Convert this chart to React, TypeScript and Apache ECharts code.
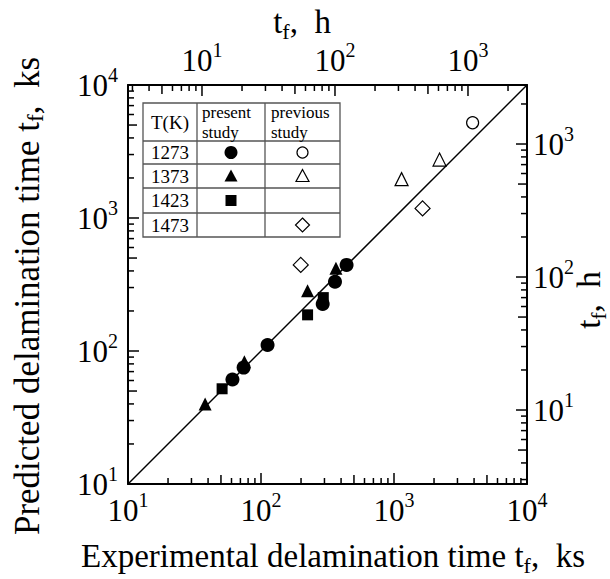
import React, { useEffect, useRef } from 'react';
import * as echarts from 'echarts';

const FONT = '"Liberation Serif", "Times New Roman", serif';

const KS_MIN = 10;
const KS_MAX = 10000;
const KS_PER_HOUR = 3.6;

// [experimental ks, predicted ks]
const PRESENT_1273 = [[61, 61], [74, 75], [112, 111], [291, 226], [360, 332], [440, 444]];
const PRESENT_1373 = [[38, 40], [75, 83], [224, 284], [366, 419]];
const PRESENT_1423 = [[51, 52], [224, 187], [294, 252]];
const PREVIOUS_1273 = [[3900, 5200]];
const PREVIOUS_1373 = [[1140, 1960], [2200, 2750]];
const PREVIOUS_1473 = [[199, 444], [1640, 1180]];
const DIAGONAL = [[10, 10], [10000, 10000]];

const TEMPS = ['1273', '1373', '1423', '1473'];
const MANTISSAS = [1, 2, 3, 4, 5, 6, 7, 8, 9];
const KS_DECADES = [10, 100, 1000, 10000];
const H_DECADES = [1, 10, 100, 1000];

const H_MIN = KS_MIN / KS_PER_HOUR;
const H_MAX = KS_MAX / KS_PER_HOUR;

const ksTicks = KS_DECADES.flatMap((d) => MANTISSAS.map((m) => m * d)).filter(
  (v) => v >= KS_MIN * 0.999 && v <= KS_MAX * 1.001
);
const hTicks = H_DECADES.flatMap((d) => MANTISSAS.map((m) => m * d)).filter(
  (v) => v >= H_MIN && v <= H_MAX
);

function tickLen(v: number) {
  const e = Math.floor(Math.log10(v) + 1e-9);
  const m = v / Math.pow(10, e);
  if (Math.abs(m - 1) < 1e-6) return 11;
  if (Math.abs(m - 5) < 1e-6) return 9;
  return 6;
}

const supRich = {
  b: { fontFamily: FONT, fontSize: 31, color: '#000', lineHeight: 40 },
  s: { fontFamily: FONT, fontSize: 20, color: '#000', lineHeight: 13, verticalAlign: 'top' },
};

function powLabel(v: number) {
  const l = Math.log10(v);
  const r = Math.round(l);
  if (Math.abs(l - r) > 0.01) return '';
  return `{b|10}{s|${r}}`;
}

const makeSubRich = (size: number) => ({
  n: { fontFamily: FONT, fontSize: size, color: '#000', lineHeight: 40 },
  s: { fontFamily: FONT, fontSize: Math.round(size * 0.66), color: '#000', lineHeight: 22, verticalAlign: 'bottom' },
});

const TICK_STYLE = { stroke: '#000', lineWidth: 1.5 };

export default function App() {
  const ref = useRef<HTMLDivElement>(null);

  useEffect(() => {
    if (!ref.current) return;
    const chart = echarts.init(ref.current, null, { renderer: 'svg' });

    const axisCommon = {
      type: 'log',
      logBase: 10,
      axisLine: { show: true, onZero: false, lineStyle: { color: '#000', width: 2 } },
      axisTick: { show: false },
      minorTick: { show: false },
      splitLine: { show: false },
    };

    // table geometry
    const tX = [143, 197, 265, 340];
    const tY = [103, 141, 164, 188, 213, 237];
    const c1 = (tX[0] + tX[1]) / 2;
    const c2 = (tX[1] + tX[2]) / 2;
    const c3 = (tX[2] + tX[3]) / 2;
    const rowC = (i: number) => (tY[i + 1] + tY[i + 2]) / 2;
    const txt = (x: number, y: number, text: string, align = 'center', size = 19) => ({
      type: 'text',
      x,
      y,
      style: {
        text,
        fontFamily: FONT,
        fontSize: size,
        lineHeight: size,
        fill: '#000',
        align,
        verticalAlign: 'middle',
      },
    });
    const tri = (cx: number, cy: number, filled: boolean) => ({
      type: 'polygon',
      shape: { points: [[cx, cy - 6.5], [cx + 6.5, cy + 5.5], [cx - 6.5, cy + 5.5]] },
      style: filled ? { fill: '#000' } : { fill: '#fff', stroke: '#000', lineWidth: 1.2 },
    });

    const tableElements: any[] = [
      {
        type: 'rect',
        shape: { x: tX[0], y: tY[0], width: tX[3] - tX[0], height: tY[5] - tY[0] },
        style: { fill: '#fff', stroke: '#555', lineWidth: 1.3 },
      },
      ...[tX[1], tX[2]].map((x) => ({
        type: 'line',
        shape: { x1: x, y1: tY[0], x2: x, y2: tY[5] },
        style: { stroke: '#555', lineWidth: 1.3 },
      })),
      ...[tY[1], tY[2], tY[3], tY[4]].map((y) => ({
        type: 'line',
        shape: { x1: tX[0], y1: y, x2: tX[3], y2: y },
        style: { stroke: '#555', lineWidth: 1.3 },
      })),
      txt(c1, 122, 'T(K)'),
      txt(tX[1] + 5, 112, 'present', 'left', 17),
      txt(tX[1] + 5, 132, 'study', 'left', 17),
      txt(tX[2] + 6, 112, 'previous', 'left', 17),
      txt(tX[2] + 6, 132, 'study', 'left', 17),
      ...TEMPS.map((t, i) => txt(c1, rowC(i), t)),
      { type: 'circle', shape: { cx: c2, cy: rowC(0), r: 6.5 }, style: { fill: '#000' } },
      { type: 'circle', shape: { cx: c3, cy: rowC(0), r: 5.5 }, style: { fill: '#fff', stroke: '#000', lineWidth: 1.2 } },
      tri(c2, rowC(1), true),
      tri(c3, rowC(1), false),
      { type: 'rect', shape: { x: c2 - 5.5, y: rowC(2) - 5.5, width: 11, height: 11 }, style: { fill: '#000' } },
      {
        type: 'polygon',
        shape: { points: [[c3, rowC(3) - 7], [c3 + 7, rowC(3)], [c3, rowC(3) + 7], [c3 - 7, rowC(3)]] },
        style: { fill: '#fff', stroke: '#000', lineWidth: 1.2 },
      },
    ];

    const titles: any[] = [
      {
        type: 'text',
        x: 333,
        y: 556,
        style: {
          text: '{n|Experimental delamination time t}{s|f}{n|,  ks}',
          rich: makeSubRich(33),
          align: 'center',
          verticalAlign: 'middle',
        },
      },
      {
        type: 'text',
        x: 27,
        y: 296,
        rotation: Math.PI / 2,
        style: {
          text: '{n|Predicted delamination time t}{s|f}{n|,  ks}',
          rich: makeSubRich(35),
          align: 'center',
          verticalAlign: 'middle',
        },
      },
      {
        type: 'text',
        x: 302,
        y: 22,
        style: { text: '{n|t}{s|f}{n|,  h}', rich: makeSubRich(33), align: 'center', verticalAlign: 'middle' },
      },
      {
        type: 'text',
        x: 589,
        y: 300,
        rotation: Math.PI / 2,
        style: { text: '{n|t}{s|f}{n|,  h}', rich: makeSubRich(33), align: 'center', verticalAlign: 'middle' },
      },
    ];

    const filled = { color: '#000', opacity: 1 };
    const open = { color: '#fff', borderColor: '#000', borderWidth: 1.2, opacity: 1 };

    chart.setOption({
      animation: false,
      backgroundColor: '#fff',
      grid: { left: 128, right: 83, top: 85, bottom: 95, containLabel: false },
      xAxis: [
        {
          ...axisCommon,
          position: 'bottom',
          min: KS_MIN,
          max: KS_MAX,
          axisLabel: { formatter: powLabel, rich: supRich, margin: 6 },
        },
        {
          ...axisCommon,
          position: 'top',
          min: H_MIN,
          max: H_MAX,
          axisLabel: { formatter: powLabel, rich: supRich, margin: 5, showMinLabel: false, showMaxLabel: false },
        },
      ],
      yAxis: [
        {
          ...axisCommon,
          position: 'left',
          min: KS_MIN,
          max: KS_MAX,
          axisLabel: { formatter: powLabel, rich: supRich, margin: 10 },
        },
        {
          ...axisCommon,
          position: 'right',
          min: H_MIN,
          max: H_MAX,
          axisLabel: { formatter: powLabel, rich: supRich, margin: 6, showMinLabel: false, showMaxLabel: false },
        },
      ],
      series: [
        {
          type: 'custom',
          xAxisIndex: 0,
          yAxisIndex: 0,
          silent: true,
          clip: false,
          data: ksTicks.map((v) => [v, v]),
          encode: { x: 0, y: 1 },
          renderItem: (params: any, api: any) => {
            const v = api.value(0);
            const cs = params.coordSys;
            const x = api.coord([v, KS_MIN])[0];
            const y = api.coord([KS_MIN, v])[1];
            const len = tickLen(v);
            const bottom = cs.y + cs.height;
            return {
              type: 'group',
              children: [
                { type: 'line', shape: { x1: x, y1: bottom, x2: x, y2: bottom - len }, style: TICK_STYLE },
                { type: 'line', shape: { x1: cs.x, y1: y, x2: cs.x + len, y2: y }, style: TICK_STYLE },
              ],
            };
          },
        },
        {
          type: 'custom',
          xAxisIndex: 1,
          yAxisIndex: 1,
          silent: true,
          clip: false,
          data: hTicks.map((v) => [v, v]),
          encode: { x: 0, y: 1 },
          renderItem: (params: any, api: any) => {
            const v = api.value(0);
            const cs = params.coordSys;
            const x = api.coord([v, H_MIN])[0];
            const y = api.coord([H_MIN, v])[1];
            const len = tickLen(v);
            const right = cs.x + cs.width;
            return {
              type: 'group',
              children: [
                { type: 'line', shape: { x1: x, y1: cs.y, x2: x, y2: cs.y + len }, style: TICK_STYLE },
                { type: 'line', shape: { x1: right, y1: y, x2: right - len, y2: y }, style: TICK_STYLE },
              ],
            };
          },
        },
        {
          type: 'line',
          data: DIAGONAL,
          symbol: 'none',
          lineStyle: { color: '#000', width: 1.5 },
          silent: true,
        },
        { type: 'scatter', name: '1273 present', data: PRESENT_1273, symbol: 'circle', symbolSize: 14, itemStyle: filled },
        { type: 'scatter', name: '1373 present', data: PRESENT_1373, symbol: 'triangle', symbolSize: 13, itemStyle: filled },
        { type: 'scatter', name: '1423 present', data: PRESENT_1423, symbol: 'rect', symbolSize: 11, itemStyle: filled },
        { type: 'scatter', name: '1273 previous', data: PREVIOUS_1273, symbol: 'circle', symbolSize: 12, itemStyle: open },
        { type: 'scatter', name: '1373 previous', data: PREVIOUS_1373, symbol: 'triangle', symbolSize: 13, itemStyle: open },
        { type: 'scatter', name: '1473 previous', data: PREVIOUS_1473, symbol: 'diamond', symbolSize: 15, itemStyle: open },
      ],
      graphic: [...tableElements, ...titles],
    });

    return () => chart.dispose();
  }, []);

  return (
    <div
      ref={ref}
      style={{ position: 'fixed', left: 0, top: 0, width: 610, height: 579, background: '#fff' }}
    />
  );
}
